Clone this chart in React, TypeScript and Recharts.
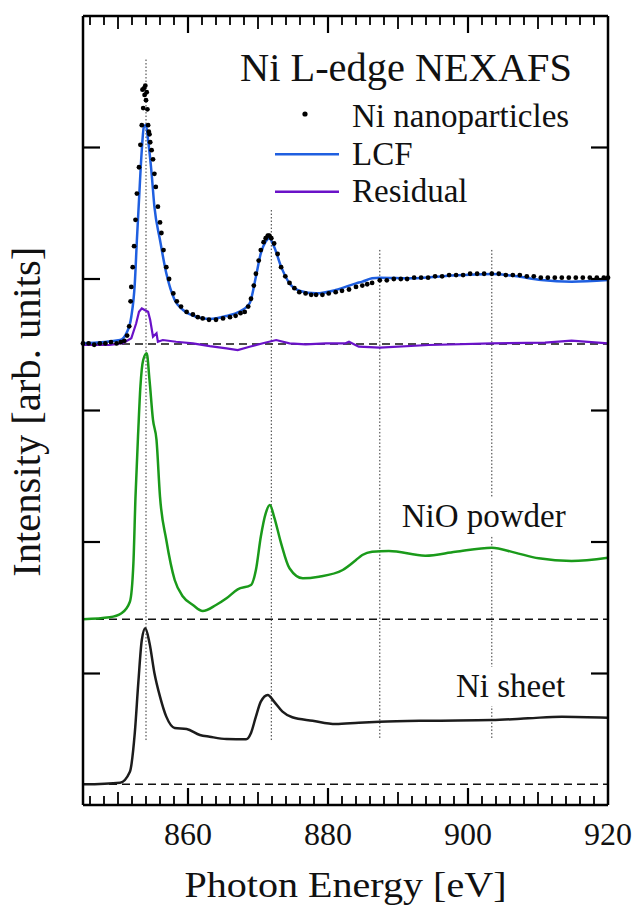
import React from 'react';
import {
  ComposedChart,
  Line,
  XAxis,
  YAxis,
  ReferenceLine,
} from 'recharts';

// Ni L-edge NEXAFS spectra, stacked with vertical offsets (arb. units)

const FONT = "'Liberation Serif', 'Times New Roman', Times, serif";

// x-axis ticks every 2 eV; labels on the 20 eV ticks
const xTicks = [
  846, 848, 850, 852, 854, 856, 858, 860, 862, 864, 866, 868, 870, 872, 874, 876, 878, 880,
  882, 884, 886, 888, 890, 892, 894, 896, 898, 900, 902, 904, 906, 908, 910, 912, 914, 916,
  918, 920,
];
const xLabels = [860, 880, 900, 920];
const yTicks = [1, 2, 3, 4, 5];

// zero lines of each stacked spectrum: residual, NiO powder, Ni sheet
const baselines = [3.505, 1.412, 0.157];

// peak markers [energy, bottom, top]
const peakMarks: [number, number, number][] = [
  [854.0, 0.494, 5.675],
  [871.9, 0.494, 4.525],
  [887.4, 0.51, 4.236],
  [903.4, 0.51, 4.236],
];

// Ni nanoparticles (measured, dots)
const nanoPoints: [number, number][] = [
  [845.0, 3.51], [845.8, 3.51], [846.6, 3.5], [847.4, 3.51], [848.2, 3.51], [849.0, 3.52],
  [849.8, 3.51], [850.4, 3.52], [850.9, 3.53], [851.3, 3.57], [851.6, 3.64], [851.8, 3.83],
  [851.9, 3.94], [852.1, 4.09], [852.3, 4.25], [852.5, 4.45], [852.7, 4.65], [853.0, 4.85],
  [853.2, 5.02], [853.4, 5.17], [853.5, 5.44], [853.6, 5.3], [853.7, 5.45], [853.8, 5.4],
  [853.9, 5.47], [854.0, 5.36], [854.1, 5.42], [854.2, 5.29], [854.3, 5.17], [854.4, 5.12],
  [854.5, 5.1], [854.6, 5.04], [854.8, 4.98], [855.0, 4.91], [855.2, 4.8], [855.4, 4.7],
  [855.7, 4.55], [856.0, 4.43], [856.2, 4.35], [856.5, 4.22], [856.9, 4.09], [857.3, 4.0],
  [857.9, 3.89], [858.4, 3.83], [859.0, 3.79], [859.8, 3.75], [860.7, 3.73], [861.4, 3.71],
  [862.1, 3.7], [863.0, 3.69], [864.0, 3.69], [865.0, 3.7], [866.0, 3.71], [866.8, 3.72],
  [867.5, 3.74], [868.1, 3.75], [868.6, 3.79], [869.0, 3.85], [869.4, 3.95], [869.7, 4.04],
  [870.1, 4.14], [870.4, 4.22], [870.8, 4.28], [871.1, 4.31], [871.4, 4.33], [871.6, 4.33],
  [871.9, 4.31], [872.3, 4.27], [872.8, 4.19], [873.3, 4.09], [873.9, 4.02], [874.5, 3.97],
  [875.2, 3.93], [875.9, 3.9], [876.8, 3.89], [877.6, 3.88], [878.3, 3.88], [879.2, 3.88],
  [880.1, 3.89], [881.1, 3.9], [882.0, 3.91], [883.0, 3.92], [884.0, 3.94], [884.9, 3.95],
  [885.6, 3.96], [886.3, 3.97], [887.4, 3.99], [888.4, 3.99], [889.4, 4.0], [890.4, 4.0],
  [891.3, 4.0], [892.3, 4.01], [893.3, 4.01], [894.3, 4.01], [895.3, 4.02], [896.3, 4.02],
  [897.3, 4.03], [898.3, 4.03], [899.3, 4.03], [900.3, 4.04], [901.3, 4.04], [902.3, 4.04],
  [903.4, 4.04], [904.4, 4.04], [905.4, 4.03], [906.4, 4.03], [907.4, 4.03], [908.4, 4.02],
  [909.4, 4.02], [910.4, 4.01], [911.4, 4.01], [912.4, 4.01], [913.4, 4.01], [914.4, 4.01],
  [915.4, 4.01], [916.4, 4.01], [917.4, 4.01], [918.4, 4.01], [919.4, 4.01], [920.0, 4.01],
];

// linear combination fit
const lcfPoints: [number, number][] = [
  [845.0, 3.511], [850.3, 3.536], [851.2, 3.587], [851.9, 3.713], [852.4, 3.967], [852.7, 4.297],
  [853.0, 4.601], [853.4, 4.981], [853.7, 5.158], [854.0, 5.171], [854.3, 5.057], [854.8, 4.804],
  [855.2, 4.55], [856.0, 4.297], [856.9, 4.043], [858.1, 3.84], [859.3, 3.764], [861.2, 3.713],
  [863.1, 3.696], [865.5, 3.719], [867.3, 3.751], [868.8, 3.815], [869.7, 4.017], [870.4, 4.195],
  [871.1, 4.284], [871.6, 4.31], [872.3, 4.246], [873.3, 4.094], [874.5, 3.967], [875.9, 3.911],
  [878.3, 3.891], [881.1, 3.916], [884.0, 3.967], [884.9, 3.98], [886.3, 4.005], [887.4, 4.01],
  [892.0, 4.005], [896.8, 4.023], [903.4, 4.038], [906.7, 4.023], [910.5, 3.992], [914.8, 3.98],
  [920.0, 3.992],
];

// residual (data - fit), around its own zero line
const residualPoints: [number, number][] = [
  [845.0, 3.498], [848.8, 3.498], [850.7, 3.511], [851.9, 3.549], [852.6, 3.663], [853.0, 3.751],
  [853.4, 3.777], [853.8, 3.764], [854.3, 3.751], [854.6, 3.688], [855.0, 3.561], [855.5, 3.587],
  [855.7, 3.523], [856.4, 3.536], [858.3, 3.523], [860.7, 3.511], [863.1, 3.49], [865.5, 3.473],
  [867.1, 3.46], [868.8, 3.485], [870.7, 3.511], [872.6, 3.536], [874.5, 3.511], [876.8, 3.503],
  [879.7, 3.511], [882.5, 3.511], [883.0, 3.523], [884.4, 3.485], [887.4, 3.478], [894.4, 3.498],
  [903.4, 3.511], [911.0, 3.516], [914.8, 3.531], [920.0, 3.511],
];

// NiO powder reference
const nioPoints: [number, number][] = [
  [845.0, 1.412], [848.8, 1.427], [850.5, 1.458], [851.7, 1.546], [852.2, 1.838], [852.5, 2.345],
  [852.9, 2.852], [853.2, 3.181], [853.6, 3.384], [854.1, 3.435], [854.5, 3.232], [855.0, 2.928],
  [855.5, 2.776], [856.0, 2.345], [856.9, 2.015], [858.1, 1.711], [859.3, 1.584], [860.7, 1.521],
  [862.1, 1.475], [864.0, 1.521], [865.5, 1.572], [867.1, 1.64], [869.0, 1.673], [869.7, 1.787],
  [870.4, 2.04], [871.1, 2.218], [871.7, 2.281], [872.3, 2.192], [873.3, 1.99], [874.5, 1.8],
  [876.4, 1.724], [878.7, 1.736], [882.1, 1.787], [884.0, 1.863], [884.9, 1.901], [886.3, 1.926],
  [888.7, 1.932], [893.9, 1.896], [898.2, 1.926], [903.4, 1.957], [906.7, 1.919], [910.1, 1.876],
  [914.8, 1.856], [920.0, 1.881],
];

// Ni sheet reference
const sheetPoints: [number, number][] = [
  [845.0, 0.157], [850.3, 0.17], [851.7, 0.253], [852.4, 0.548], [852.9, 0.928], [853.4, 1.255],
  [853.9, 1.344], [854.5, 1.232], [855.2, 1.004], [856.0, 0.824], [856.9, 0.672], [858.1, 0.586],
  [859.8, 0.578], [861.7, 0.532], [863.1, 0.519], [865.5, 0.502], [868.3, 0.5], [869.0, 0.548],
  [869.7, 0.672], [870.4, 0.786], [871.4, 0.837], [872.3, 0.786], [873.5, 0.71], [874.9, 0.667],
  [877.8, 0.641], [881.1, 0.616], [884.4, 0.626], [887.4, 0.633], [894.4, 0.641], [903.4, 0.646],
  [908.6, 0.659], [913.4, 0.672], [920.0, 0.664],
];

const toRows = (pts: [number, number][]) => pts.map(([x, y]) => ({ x, y }));

const COLORS = {
  lcf: '#1f5fe0',
  residual: '#6a12c8',
  nio: '#1a9a1a',
  sheet: '#1c1c1c',
};

const X_DOMAIN: [number, number] = [845, 920];
const Y_DOMAIN: [number, number] = [0, 6];

const W = 635;
const H = 910;
const AXIS_H = 105;
const MARGIN = { top: 16, right: 27, bottom: 0, left: 83 };
const PLOT_TOP = MARGIN.top;
const PLOT_BOTTOM = H - AXIS_H;
const PLOT_W = W - MARGIN.left - MARGIN.right;
// y ticks are drawn inward as short segments; convert their pixel length to data units
const EV_PER_PX = (X_DOMAIN[1] - X_DOMAIN[0]) / PLOT_W;
// frame comb on top/bottom is drawn in the annotation layer above the chart
const evToPx = (v: number) => MARGIN.left + (v - X_DOMAIN[0]) / EV_PER_PX;

function tickLen(v: number) {
  if (v % 20 === 0) return 17;
  if (v % 10 === 0) return 13;
  return 9;
}

function XLabel(props: any) {
  const { x, payload } = props;
  const v = payload.value;
  if (!xLabels.includes(v)) return <g />;
  return (
    <text x={x} y={845} textAnchor="middle" fontFamily={FONT} fontSize={32} fill="#111">
      {v}
    </text>
  );
}

type Seg = { key: string; seg: { x: number; y: number }[]; w: number };

function frameSegments(): Seg[] {
  const [x0, x1] = X_DOMAIN;
  const [y0, y1] = Y_DOMAIN;
  const out: Seg[] = [
    { key: 'fb', seg: [{ x: x0, y: y0 }, { x: x1, y: y0 }], w: 2.5 },
    { key: 'ft', seg: [{ x: x0, y: y1 }, { x: x1, y: y1 }], w: 2.5 },
    { key: 'fl', seg: [{ x: x0, y: y0 }, { x: x0, y: y1 }], w: 2.5 },
    { key: 'fr', seg: [{ x: x1, y: y0 }, { x: x1, y: y1 }], w: 2.5 },
  ];
  yTicks.forEach((v) => {
    const dx = 17 * EV_PER_PX;
    out.push({ key: `l${v}`, seg: [{ x: x0, y: v }, { x: x0 + dx, y: v }], w: 2.2 });
    out.push({ key: `r${v}`, seg: [{ x: x1, y: v }, { x: x1 - dx, y: v }], w: 2.2 });
  });
  return out;
}

export default function App() {
  const segs = frameSegments();

  return (
    <div style={{ position: 'absolute', left: 0, top: 0, width: W, height: H, background: '#fff' }}>
      <ComposedChart width={W} height={H} margin={MARGIN}>
        <XAxis
          xAxisId="b"
          dataKey="x"
          type="number"
          domain={X_DOMAIN}
          height={AXIS_H}
          ticks={xTicks}
          interval={0}
          tickLine={false}
          axisLine={false}
          tick={<XLabel />}
        />
        <YAxis yAxisId="l" type="number" domain={Y_DOMAIN} hide />

        {baselines.map((b) => (
          <ReferenceLine
            key={`base-${b}`}
            xAxisId="b"
            yAxisId="l"
            y={b}
            stroke="#111"
            strokeWidth={1.5}
            strokeDasharray="8 5"
          />
        ))}
        {peakMarks.map(([e, lo, hi]) => (
          <ReferenceLine
            key={`peak-${e}`}
            xAxisId="b"
            yAxisId="l"
            segment={[
              { x: e, y: lo },
              { x: e, y: hi },
            ]}
            stroke="#333"
            strokeWidth={1}
            strokeDasharray="1.5 2"
          />
        ))}

        <Line xAxisId="b" yAxisId="l" data={toRows(sheetPoints)} dataKey="y" type="monotone"
          stroke={COLORS.sheet} strokeWidth={2.5} dot={false} activeDot={false} isAnimationActive={false} />
        <Line xAxisId="b" yAxisId="l" data={toRows(nioPoints)} dataKey="y" type="monotone"
          stroke={COLORS.nio} strokeWidth={2.5} dot={false} activeDot={false} isAnimationActive={false} />
        <Line xAxisId="b" yAxisId="l" data={toRows(residualPoints)} dataKey="y" type="linear"
          stroke={COLORS.residual} strokeWidth={2.2} dot={false} activeDot={false} isAnimationActive={false} />
        <Line xAxisId="b" yAxisId="l" data={toRows(lcfPoints)} dataKey="y" type="monotone"
          stroke={COLORS.lcf} strokeWidth={2.5} dot={false} activeDot={false} isAnimationActive={false} />
        <Line xAxisId="b" yAxisId="l" data={toRows(nanoPoints)} dataKey="y" type="linear"
          stroke="none" strokeWidth={0} dot={{ r: 2.4, fill: '#000', stroke: 'none' }}
          activeDot={false} isAnimationActive={false} />

        {segs.map((t) => (
          <ReferenceLine
            key={t.key}
            xAxisId="b"
            yAxisId="l"
            segment={t.seg}
            stroke="#000"
            strokeWidth={t.w}
            ifOverflow="visible"
          />
        ))}
      </ComposedChart>

      {/* annotations: frame comb, title, legend, curve labels, axis titles */}
      <svg
        width={W}
        height={H}
        style={{ position: 'absolute', left: 0, top: 0, pointerEvents: 'none' }}
        fontFamily={FONT}
      >
        {xTicks
          .filter((v) => v < X_DOMAIN[1])
          .map((v) => {
            const px = evToPx(v);
            const len = tickLen(v);
            const w = v % 20 === 0 ? 2.2 : 1.8;
            return (
              <g key={`xt-${v}`}>
                <line x1={px} x2={px} y1={PLOT_BOTTOM} y2={PLOT_BOTTOM - len} stroke="#000" strokeWidth={w} />
                <line x1={px} x2={px} y1={PLOT_TOP} y2={PLOT_TOP + len} stroke="#000" strokeWidth={w} />
              </g>
            );
          })}

        <text x={240} y={81} fontSize={40} fill="#111" textLength={332} lengthAdjust="spacingAndGlyphs">
          Ni L-edge NEXAFS
        </text>

        <circle cx={305} cy={114} r={2.6} fill="#000" />
        <text x={352} y={126.7} fontSize={33} fill="#111">
          Ni nanoparticles
        </text>
        <line x1={275} x2={339} y1={154.3} y2={154.3} stroke={COLORS.lcf} strokeWidth={2.5} />
        <text x={352} y={165} fontSize={33} fill="#111">
          LCF
        </text>
        <line x1={275} x2={339} y1={191.7} y2={191.7} stroke={COLORS.residual} strokeWidth={2.5} />
        <text x={352} y={201.7} fontSize={33} fill="#111">
          Residual
        </text>

        <rect x={398} y={497} width={172} height={39} fill="#fff" />
        <text x={401.7} y={526.7} fontSize={33} fill="#111">
          NiO powder
        </text>
        <rect x={452} y={667} width={116} height={39} fill="#fff" />
        <text x={456} y={696.7} fontSize={33} fill="#111">
          Ni sheet
        </text>

        <text x={345.5} y={897} fontSize={36} fill="#111" textAnchor="middle" textLength={322} lengthAdjust="spacingAndGlyphs">
          Photon Energy [eV]
        </text>
        <text
          x={40}
          y={411.7}
          fontSize={40}
          fill="#111"
          textAnchor="middle"
          transform="rotate(-90 40 411.7)"
          textLength={330}
          lengthAdjust="spacingAndGlyphs"
        >
          Intensity [arb. units]
        </text>
      </svg>
    </div>
  );
}
